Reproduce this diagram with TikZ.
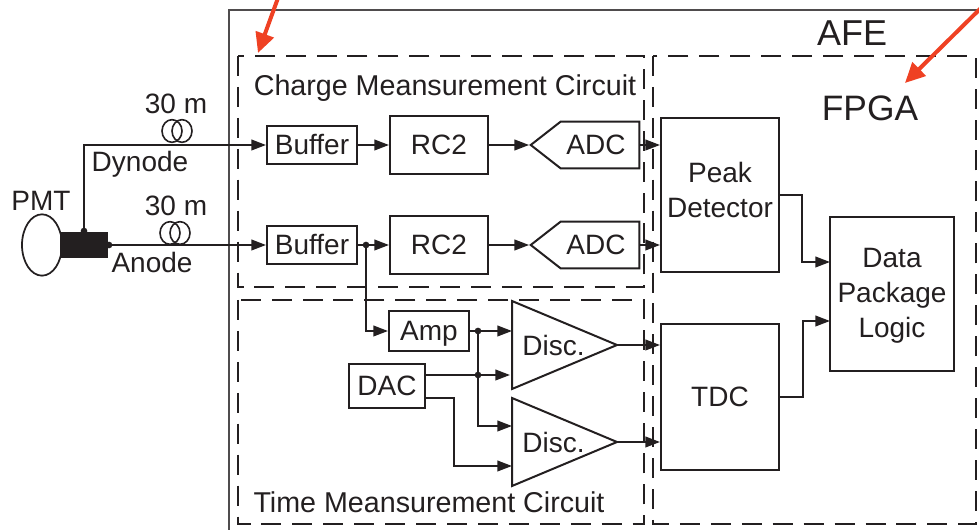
\documentclass[tikz,border=0pt]{standalone}
\usepackage{fontspec}
\setmainfont{Liberation Sans}
\usetikzlibrary{shapes.geometric,shapes.symbols,arrows.meta,positioning}
\definecolor{inkline}{HTML}{231F20}
\definecolor{redmark}{HTML}{EF4123}
\begin{document}
\begin{tikzpicture}[x=0.75pt,y=-0.75pt,
  every node/.style={text=inkline},
  block/.style={rectangle,draw=inkline,line width=1.5pt,inner sep=0pt,align=center,font=\fontsize{21}{26}\selectfont},
  adcbox/.style={signal,signal to=west,signal pointer angle=76,draw=inkline,line width=1.5pt,inner sep=0pt,
                 minimum width=81.5pt,minimum height=35pt,font=\fontsize{21}{25}\selectfont},
  disc/.style={isosceles triangle,isosceles triangle stretches,draw=inkline,line width=1.5pt,inner sep=0pt,outer sep=0pt,
               minimum width=66pt,minimum height=78.75pt,font=\fontsize{21}{25}\selectfont},
  lbl/.style={font=\fontsize{21}{25}\selectfont,inner sep=0pt},
  zone/.style={draw=inkline,line width=1.5pt,dash pattern=on 15pt off 8.2pt},
  arr/.style={-{Triangle[length=11pt,width=8pt]},draw=inkline,line width=1.4pt},
  dot/.style={circle,fill=inkline,inner sep=0pt,minimum size=5pt},
  redarrow/.style={-{Triangle[length=15pt,width=14pt]},draw=redmark,line width=3pt}]
\useasboundingbox (0,0) rectangle (979,530);
%% outer frame
\draw[draw=inkline!80,line width=1.2pt] (229,530) -- (229,10) -- (979,10);
\node[lbl,font=\fontsize{27}{32}\selectfont](afe) at (852,33) {AFE};
%% dashed zones
\draw[zone] (238,56) rectangle (644,287);
\draw[zone] (238,300) rectangle (644,524);
\draw[zone] (653,56) rectangle (976,524);
\node[lbl,font=\fontsize{21.5}{25}\selectfont](chargelbl) at (445,88) {Charge Meansurement Circuit};
\node[lbl,font=\fontsize{21.5}{25}\selectfont](timelbl) at (429,502) {Time Meansurement Circuit};
\node[lbl,font=\fontsize{26.5}{32}\selectfont](fpga) at (870,108) {FPGA};
%% PMT
\node[ellipse,draw=inkline,line width=1.3pt,minimum width=30pt,minimum height=46pt,inner sep=0pt](pmt) at (42,245) {};
\node[rectangle,fill=inkline,minimum width=36pt,minimum height=20pt,inner sep=0pt](base) at (84,245) {};
\node[lbl](pmtlbl) at (41,201) {PMT};
\node[dot](dyndot) at (84,231) {};
\node[dot](anodot) at (109,245) {};
%% blocks, top row
\node[block,minimum width=67.5pt,minimum height=29pt](buf1) at (312,145) {Buffer};
\node[block,minimum width=67.5pt,minimum height=29pt](buf2) at (312,245) {Buffer};
\node[block,minimum width=73.5pt,minimum height=43.5pt](rc1) at (439,145) {RC2};
\node[block,minimum width=73.5pt,minimum height=43.5pt](rc2) at (439,245) {RC2};
\node[adcbox](adc1) at (600,145) {ADC\hspace*{6pt}};
\node[adcbox](adc2) at (600,245) {ADC\hspace*{6pt}};
%% blocks, time part
\node[block,text depth=0pt,minimum width=60pt,minimum height=30pt](amp) at (429,331) {Amp};
\node[block,minimum width=57pt,minimum height=33pt](dac) at (387,386) {DAC};
\node[disc,anchor=apex](disc1) at (617,345) {\makebox[0pt]{\hspace*{28.5pt}Disc.}};
\node[disc,anchor=apex](disc2) at (617,442) {\makebox[0pt]{\hspace*{28.5pt}Disc.}};
%% blocks, FPGA part
\node[block,text depth=7.5pt,minimum width=88.5pt,minimum height=115pt](peak) at (720,195) {Peak\\Detector};
\node[block,minimum width=88.5pt,minimum height=110pt](tdc) at (720,397) {TDC};
\node[block,text depth=1.5pt,minimum width=93.5pt,minimum height=115pt](pack) at (892,294) {Data\\Package\\Logic};
%% fibre coils
\node[lbl](len1) at (176,104) {30 m};
\node[lbl](len2) at (176,206) {30 m};
\foreach \cx/\cy/\cn in {172/131/a,182/131/b,170/233/c,180/233/d}
  \node[ellipse,draw=inkline,line width=1.2pt,minimum width=15pt,minimum height=17pt,inner sep=0pt](coil\cn) at (\cx,\cy) {};
\node[lbl](dynlbl) at (140,164) {Dynode};
\node[lbl](anolbl) at (152,262) {Anode};
%% inputs
\draw[arr] (dyndot.center) |- (buf1.west);
\draw[arr] (anodot.center) -- (buf2.west);
%% top row signal path
\draw[arr] (buf1) -- (rc1);
\draw[arr] (buf2) -- (rc2);
\draw[arr] (rc1) -- (adc1.west);
\draw[arr] (rc2) -- (adc2.west);
\draw[arr] (adc1.east) -- (adc1.east -| peak.west);
\draw[arr] (adc2.east) -- (adc2.east -| peak.west);
%% tap to time path
\node[dot](tap) at (366,245) {};
\draw[arr] (tap.center) |- (amp.west);
\node[dot](ampdot) at (478,331) {};
\node[dot](dacdot) at (478,375) {};
\coordinate (in1) at (512,331);
\coordinate (in2) at (510,375);
\coordinate (in3) at (512,426);
\coordinate (in4) at (512,466);
\coordinate (dacup) at (426,375);
\coordinate (daclow) at (426,398);
\draw[arr] (amp.east) -- (in1);
\draw[arr] (dacup) -- (in2);
\draw[arr] (ampdot.center) |- (in3);
\draw[arr] (daclow) -- (454,398) |- (in4);
\draw[arr] (disc1.apex) -- (disc1.apex -| tdc.west);
\draw[arr] (disc2.apex) -- (disc2.apex -| tdc.west);
%% into package logic
\coordinate (packup) at (830,262);
\coordinate (packlow) at (830,321);
\coordinate (peakout) at (779,195);
\draw[arr] (peakout) -- (802,195) |- (packup);
\draw[arr] (tdc.east) -- (803,397) |- (packlow);
%% red markers
\coordinate (mk1a) at (278,-2);
\coordinate (mk1b) at (258,53);
\coordinate (mk2a) at (981,8);
\coordinate (mk2b) at (905,83);
\draw[redarrow] (mk1a) -- (mk1b);
\draw[redarrow] (mk2a) -- (mk2b);
\end{tikzpicture}
\end{document}
